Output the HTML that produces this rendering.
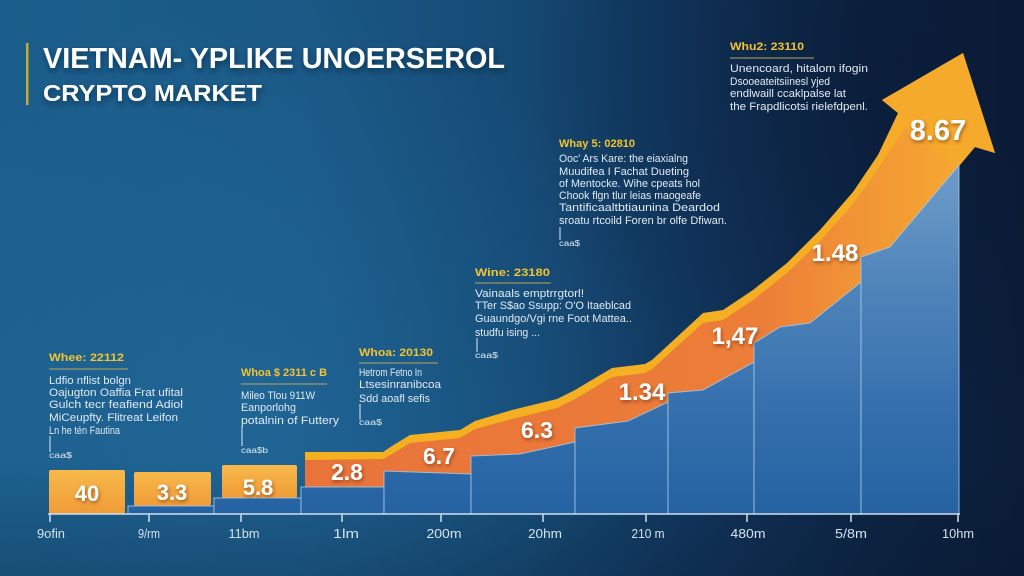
<!DOCTYPE html>
<html>
<head>
<meta charset="utf-8">
<style>
  html,body{margin:0;padding:0;background:#0b1d38;}
  svg{display:block;}
  .t{font-family:"Liberation Sans",Arial,sans-serif;}
</style>
</head>
<body>
<svg width="1024" height="576" viewBox="0 0 1024 576" xmlns="http://www.w3.org/2000/svg" class="t">
  <defs>
    <linearGradient id="bg" x1="0" y1="0" x2="1" y2="0">
      <stop offset="0" stop-color="#1b5e8b"/>
      <stop offset="0.3" stop-color="#1a5885"/>
      <stop offset="0.5" stop-color="#154a74"/>
      <stop offset="0.68" stop-color="#11365d"/>
      <stop offset="0.85" stop-color="#0d2545"/>
      <stop offset="1" stop-color="#0b1d38"/>
    </linearGradient>
    <radialGradient id="glow" cx="260" cy="420" r="420" gradientUnits="userSpaceOnUse">
      <stop offset="0" stop-color="#2a7ab0" stop-opacity="0.35"/>
      <stop offset="1" stop-color="#2a7ab0" stop-opacity="0"/>
    </radialGradient>
    <radialGradient id="dark" cx="900" cy="60" r="380" gradientUnits="userSpaceOnUse">
      <stop offset="0" stop-color="#081630" stop-opacity="0.5"/>
      <stop offset="1" stop-color="#081630" stop-opacity="0"/>
    </radialGradient>
    <linearGradient id="bot" x1="0" y1="0" x2="0" y2="1">
      <stop offset="0.8" stop-color="#061428" stop-opacity="0"/>
      <stop offset="1" stop-color="#061428" stop-opacity="0.25"/>
    </linearGradient>
    <linearGradient id="blue" x1="0" y1="165" x2="0" y2="514" gradientUnits="userSpaceOnUse">
      <stop offset="0" stop-color="#6e9cc8"/>
      <stop offset="0.35" stop-color="#4f84ba"/>
      <stop offset="0.7" stop-color="#3570ad"/>
      <stop offset="1" stop-color="#2462a2"/>
    </linearGradient>
    <linearGradient id="ybar" x1="0" y1="0" x2="0" y2="1">
      <stop offset="0" stop-color="#f7b94b"/>
      <stop offset="1" stop-color="#f09c36"/>
    </linearGradient>
    <linearGradient id="yel" x1="300" y1="0" x2="960" y2="0" gradientUnits="userSpaceOnUse">
      <stop offset="0" stop-color="#f3b120"/>
      <stop offset="0.8" stop-color="#f5ae24"/>
      <stop offset="1" stop-color="#f6aa2c"/>
    </linearGradient>
    <linearGradient id="org" x1="300" y1="0" x2="960" y2="0" gradientUnits="userSpaceOnUse">
      <stop offset="0" stop-color="#e8733a"/>
      <stop offset="0.7" stop-color="#ec7e38"/>
      <stop offset="0.85" stop-color="#f19536"/>
      <stop offset="1" stop-color="#f5a82f"/>
    </linearGradient>
    <filter id="sh" x="-30%" y="-30%" width="160%" height="160%">
      <feDropShadow dx="1" dy="2" stdDeviation="1.8" flood-color="#5a2008" flood-opacity="0.55"/>
    </filter>
    <filter id="tsh" x="-10%" y="-30%" width="120%" height="160%">
      <feDropShadow dx="1" dy="3" stdDeviation="3" flood-color="#061a30" flood-opacity="0.6"/>
    </filter>
  </defs>

  <!-- background -->
  <rect width="1024" height="576" fill="url(#bg)"/>
  <rect width="1024" height="576" fill="url(#glow)"/>
  <rect width="1024" height="576" fill="url(#dark)"/>
  <rect width="1024" height="576" fill="url(#bot)"/>

  <!-- title -->
  <rect x="26" y="43" width="2.5" height="62" fill="#c9aa2e"/>
  <g filter="url(#tsh)" fill="#ffffff" font-weight="bold">
    <text x="43" y="68" font-size="29" textLength="462" lengthAdjust="spacingAndGlyphs">VIETNAM- YPLIKE UNOERSEROL</text>
    <text x="43" y="101" font-size="23" textLength="219" lengthAdjust="spacingAndGlyphs">CRYPTO MARKET</text>
  </g>

  <!-- yellow/orange area -->
  <path fill="url(#yel)" d="M305,452 L383,452 L392,446 L410,435 L460,430 L475,421 L512,410 L557,399 L575,390 L612,368 L645,364 L652,360 L703,313 L723,310 L753,290 L787,263 L820,230 L853,192 L878,155 L898,113 L882,100 L963,53 L995,153 L975,147 L959,166 L959,514 L305,514 Z"/>
  <path fill="url(#org)" d="M305,460 L383,459 L392,454 L410,443 L460,438 L475,429 L512,419 L557,408 L575,399 L612,377 L645,373 L652,369 L703,323 L723,320 L753,300 L787,273 L820,241 L853,204 L880,166 L905,128 L959,166 L959,514 L305,514 Z"/>
  <!-- arrow head -->
  <path fill="#f6aa2c" d="M882,100 L963,53 L995,153 L975,147 L959,166 L905,128 L898,113 Z"/>

  <!-- yellow bars -->
  <rect x="49" y="470" width="76" height="44" rx="2" fill="url(#ybar)"/>
  <rect x="134" y="472" width="77" height="34" rx="2" fill="url(#ybar)"/>
  <rect x="222" y="465" width="75" height="33" rx="2" fill="url(#ybar)"/>

  <!-- blue segments -->
  <g fill="url(#blue)" stroke="#a9c6e2" stroke-width="1" stroke-opacity="0.85">
    <path d="M128,514 L128,506 L214,506 L214,514 Z"/>
    <path d="M214,514 L214,498 L301,498 L301,514 Z"/>
    <path d="M301,514 L301,487 L384,487 L384,514 Z"/>
    <path d="M384,514 L384,471 L471,474 L471,514 Z"/>
    <path d="M471,514 L471,456 L520,454 L575,442 L575,514 Z"/>
    <path d="M575,514 L575,428 L628,421 L668,402 L668,514 Z"/>
    <path d="M668,514 L668,393 L703,390 L754,362 L754,514 Z"/>
    <path d="M754,514 L754,343 L780,327 L810,323 L861,282 L861,514 Z"/>
    <path d="M861,514 L861,257 L890,247 L959,165 L959,514 Z"/>
  </g>

  <!-- axis -->
  <g stroke="#cfe0ee" stroke-width="1.5">
    <line x1="48" y1="514" x2="960" y2="514"/>
    <line x1="50" y1="514" x2="50" y2="522"/>
    <line x1="149" y1="514" x2="149" y2="522"/>
    <line x1="241" y1="514" x2="241" y2="522"/>
    <line x1="342" y1="514" x2="342" y2="522"/>
    <line x1="441" y1="514" x2="441" y2="522"/>
    <line x1="543" y1="514" x2="543" y2="522"/>
    <line x1="646" y1="514" x2="646" y2="522"/>
    <line x1="747" y1="514" x2="747" y2="522"/>
    <line x1="851" y1="514" x2="851" y2="522"/>
    <line x1="958" y1="514" x2="958" y2="522"/>
  </g>
  <g fill="#d5e2ee" font-size="13" text-anchor="middle">
    <text x="51" y="538" textLength="28" lengthAdjust="spacingAndGlyphs">9ofin</text>
    <text x="149" y="538" textLength="22" lengthAdjust="spacingAndGlyphs">9/rm</text>
    <text x="244" y="538" textLength="31" lengthAdjust="spacingAndGlyphs">11bm</text>
    <text x="346" y="538" textLength="26" lengthAdjust="spacingAndGlyphs">1lm</text>
    <text x="444" y="538" textLength="35" lengthAdjust="spacingAndGlyphs">200m</text>
    <text x="545" y="538" textLength="34" lengthAdjust="spacingAndGlyphs">20hm</text>
    <text x="648" y="538" textLength="33" lengthAdjust="spacingAndGlyphs">210 m</text>
    <text x="748" y="538" textLength="35" lengthAdjust="spacingAndGlyphs">480m</text>
    <text x="851" y="538" textLength="32" lengthAdjust="spacingAndGlyphs">5/8m</text>
    <text x="958" y="538" textLength="32" lengthAdjust="spacingAndGlyphs">10hm</text>
  </g>

  <!-- value labels -->
  <g fill="#ffffff" font-weight="bold" text-anchor="middle" filter="url(#sh)">
    <text x="87" y="501" font-size="22">40</text>
    <text x="172" y="500" font-size="22">3.3</text>
    <text x="258" y="495" font-size="22">5.8</text>
    <text x="347" y="480" font-size="23">2.8</text>
    <text x="439" y="464" font-size="23">6.7</text>
    <text x="537" y="438" font-size="23">6.3</text>
    <text x="642" y="400" font-size="24">1.34</text>
    <text x="735" y="344" font-size="24">1,47</text>
    <text x="835" y="261" font-size="24">1.48</text>
    <text x="938" y="140" font-size="29">8.67</text>
  </g>

  <!-- annotations -->
  <g font-size="11">
    <!-- 1 -->
    <text x="49" y="361" fill="#f2c431" font-weight="bold" textLength="75" lengthAdjust="spacingAndGlyphs">Whee: 22112</text>
    <line x1="49" y1="369" x2="128" y2="369" stroke="#b9a658" stroke-width="1"/>
    <g fill="#e2eaf2">
      <text x="49" y="384" textLength="82" lengthAdjust="spacingAndGlyphs">Ldfio nflist bolgn</text>
      <text x="49" y="396" textLength="134" lengthAdjust="spacingAndGlyphs">Oajugton Oaffia Frat ufital</text>
      <text x="49" y="408" textLength="134" lengthAdjust="spacingAndGlyphs">Gulch tecr feafiend Adiol</text>
      <text x="49" y="421" textLength="129" lengthAdjust="spacingAndGlyphs">MiCeupfty. Flitreat Leifon</text>
      <text x="49" y="434" textLength="71" lengthAdjust="spacingAndGlyphs">Ln he tén Fautina</text>
      <text x="49" y="458" font-size="8" textLength="23" lengthAdjust="spacingAndGlyphs">caa$</text>
    </g>
    <line x1="50" y1="436" x2="50" y2="452" stroke="#dfe8f0" stroke-width="1"/>

    <!-- 2 -->
    <text x="241" y="376" fill="#f2c431" font-weight="bold" textLength="86" lengthAdjust="spacingAndGlyphs">Whoa $ 2311 c B</text>
    <line x1="241" y1="384" x2="327" y2="384" stroke="#b9a658" stroke-width="1"/>
    <g fill="#e2eaf2">
      <text x="241" y="399" textLength="74" lengthAdjust="spacingAndGlyphs">Mileo Tlou 911W</text>
      <text x="241" y="411" textLength="55" lengthAdjust="spacingAndGlyphs">Eanporlohg</text>
      <text x="241" y="424" textLength="98" lengthAdjust="spacingAndGlyphs">potalnin of Futtery</text>
      <text x="241" y="453" font-size="8" textLength="27" lengthAdjust="spacingAndGlyphs">caa$b</text>
    </g>
    <line x1="242" y1="426" x2="242" y2="446" stroke="#dfe8f0" stroke-width="1"/>

    <!-- 3 -->
    <text x="359" y="356" fill="#f2c431" font-weight="bold" textLength="74" lengthAdjust="spacingAndGlyphs">Whoa: 20130</text>
    <line x1="359" y1="363" x2="438" y2="363" stroke="#b9a658" stroke-width="1"/>
    <g fill="#e2eaf2">
      <text x="359" y="376" textLength="63" lengthAdjust="spacingAndGlyphs">Hetrom Fetno In</text>
      <text x="359" y="388" textLength="82" lengthAdjust="spacingAndGlyphs">Ltsesinranibcoa</text>
      <text x="359" y="402" textLength="71" lengthAdjust="spacingAndGlyphs">Sdd aoafl sefis</text>
      <text x="359" y="425" font-size="8" textLength="23" lengthAdjust="spacingAndGlyphs">caa$</text>
    </g>
    <line x1="360" y1="404" x2="360" y2="420" stroke="#dfe8f0" stroke-width="1"/>

    <!-- 4 -->
    <text x="475" y="276" fill="#f2c431" font-weight="bold" textLength="75" lengthAdjust="spacingAndGlyphs">Wine: 23180</text>
    <line x1="475" y1="283" x2="551" y2="283" stroke="#b9a658" stroke-width="1"/>
    <g fill="#e2eaf2">
      <text x="475" y="297" textLength="109" lengthAdjust="spacingAndGlyphs">Vainaals emptrrgtorl!</text>
      <text x="475" y="309" textLength="156" lengthAdjust="spacingAndGlyphs">TTer S$ao Ssupp: O'O Itaeblcad</text>
      <text x="475" y="322" textLength="157" lengthAdjust="spacingAndGlyphs">Guaundgo/Vgi rne Foot Mattea..</text>
      <text x="475" y="336" textLength="65" lengthAdjust="spacingAndGlyphs">studfu ising ...</text>
      <text x="475" y="358" font-size="8" textLength="23" lengthAdjust="spacingAndGlyphs">caa$</text>
    </g>
    <line x1="477" y1="338" x2="477" y2="352" stroke="#dfe8f0" stroke-width="1"/>

    <!-- 5 -->
    <text x="559" y="147" fill="#f2c431" font-weight="bold" textLength="76" lengthAdjust="spacingAndGlyphs">Whay 5: 02810</text>
    <g fill="#e2eaf2">
      <text x="559" y="162" textLength="129" lengthAdjust="spacingAndGlyphs">Ooc' Ars Kare: the eiaxialng</text>
      <text x="559" y="175" textLength="130" lengthAdjust="spacingAndGlyphs">Muudifea I Fachat Dueting</text>
      <text x="559" y="187" textLength="141" lengthAdjust="spacingAndGlyphs">of Mentocke. Wihe cpeats hol</text>
      <text x="559" y="199" textLength="142" lengthAdjust="spacingAndGlyphs">Chook flgn tlur leias maogeafe</text>
      <text x="559" y="211" textLength="161" lengthAdjust="spacingAndGlyphs">Tantificaaltbtiaunina  Deardod</text>
      <text x="559" y="224" textLength="168" lengthAdjust="spacingAndGlyphs">sroatu rtcoild Foren br olfe Dfiwan.</text>
      <text x="559" y="246" font-size="8" textLength="21" lengthAdjust="spacingAndGlyphs">caa$</text>
    </g>
    <line x1="560" y1="227" x2="560" y2="240" stroke="#dfe8f0" stroke-width="1"/>

    <!-- 6 -->
    <text x="730" y="50" fill="#f2c431" font-weight="bold" textLength="74" lengthAdjust="spacingAndGlyphs">Whu2: 23110</text>
    <line x1="730" y1="58" x2="814" y2="58" stroke="#b9a658" stroke-width="1"/>
    <g fill="#e2eaf2">
      <text x="730" y="72" textLength="138" lengthAdjust="spacingAndGlyphs">Unencoard, hitalom ifogin</text>
      <text x="730" y="85" textLength="100" lengthAdjust="spacingAndGlyphs">Dsooeateitsiinesl yjed</text>
      <text x="730" y="97" textLength="116" lengthAdjust="spacingAndGlyphs">endlwaill ccaklpalse lat</text>
      <text x="730" y="110" textLength="138" lengthAdjust="spacingAndGlyphs">the Frapdlicotsi rielefdpenl.</text>
    </g>
  </g>
</svg>
</body>
</html>
